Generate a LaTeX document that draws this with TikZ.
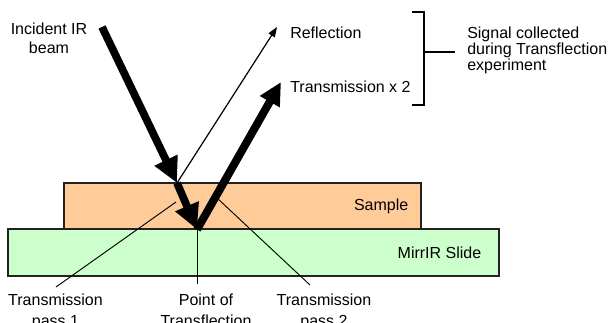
\documentclass[tikz,border=0pt]{standalone}
\usepackage{fontspec}
\setmainfont{Liberation Sans}
\usetikzlibrary{arrows.meta}
\definecolor{sampleC}{HTML}{FFCC99}
\definecolor{slideC}{HTML}{CCFFCC}
\definecolor{edgeC}{HTML}{222222}
\begin{document}
\begin{tikzpicture}[x=0.75pt,y=-0.75pt,
  lbl/.style={font=\fontsize{12}{14}\selectfont, inner sep=0pt, align=center},
  slab/.style={draw=edgeC, line width=0.8pt, inner sep=0pt},
  beam/.style={line width=5.8pt, -{Triangle[length=19pt,width=18pt]}},
  beamtwo/.style={line width=6pt, -{Triangle[length=17pt,width=16pt]}},
  refl/.style={line width=0.9pt, -{Triangle[length=7.5pt,width=5.5pt]}},
  leader/.style={line width=0.7pt},
  bracketline/.style={line width=0.8pt}
]
\useasboundingbox (0,0) rectangle (610,322);
\fill[white] (0,0) rectangle (610,322);
% slabs
\node[slab, fill=slideC, minimum width=368.25pt, minimum height=35.25pt] (slide) at (253.5,252.5) {};
\node[slab, fill=sampleC, minimum width=267.75pt, minimum height=34.5pt] (sample) at (242.5,206) {};
\node[lbl, anchor=east] (samplelbl) at ([xshift=-9.75pt]sample.east) {Sample};
\node[lbl, anchor=east] (slidelbl) at ([xshift=-13.5pt]slide.east) {MirrIR Slide};
% coordinates
\coordinate (inc0) at (102,27);
\coordinate (inc1) at (177,183);
\coordinate (pt) at (197,229.5);
\coordinate (trtip) at (281,82);
\coordinate (reftip) at (277,27);
\coordinate (p1a) at (176,202);
\coordinate (p1b) at (56,287);
\coordinate (p2a) at (217,198);
\coordinate (p2b) at (310,285);
\coordinate (ptb) at (197,284);
% labels
\node[lbl, font=\fontsize{12}{14.5}\selectfont] (incident) at (49,38.5) {Incident IR\\beam};
\node[lbl, anchor=west] (reflection) at (290,33) {Reflection};
\node[lbl, anchor=west] (transm) at (290,87) {Transmission x 2};
\node[lbl, anchor=base west, align=left, font=\fontsize{12}{12}\selectfont] (signal) at (467,70) {Signal collected\\during Transflection\\experiment};
\node[lbl, anchor=base, font=\fontsize{12}{15.75}\selectfont] (pass1) at (55.5,326) {Transmission\\pass 1};
\node[lbl, anchor=base, font=\fontsize{12}{15.75}\selectfont] (point) at (206,326) {Point of\\Transflection};
\node[lbl, anchor=base, font=\fontsize{12}{15.75}\selectfont] (pass2) at (324,326) {Transmission\\pass 2};
% leaders
\draw[leader] (p1b) -- (p1a);
\draw[leader] (p2a) -- (p2b);
\draw[leader] (pt) -- (ptb);
% beams
\draw[refl] (inc1) -- (reftip);
\draw[beam] (inc0) -- (inc1);
\draw[beam] (inc1) -- (pt);
\draw[beamtwo] (pt) -- (trtip);
% bracket
\coordinate (bt0) at (412,12);
\coordinate (bt1) at (424,12);
\coordinate (bb1) at (424,105);
\coordinate (bb0) at (412,105);
\coordinate (bm0) at (424,52);
\coordinate (bm1) at (455,52);
\draw[bracketline] (bt0) -- (bt1) -- (bb1) -- (bb0);
\draw[bracketline] (bm0) -- (bm1);
\end{tikzpicture}
\end{document}
